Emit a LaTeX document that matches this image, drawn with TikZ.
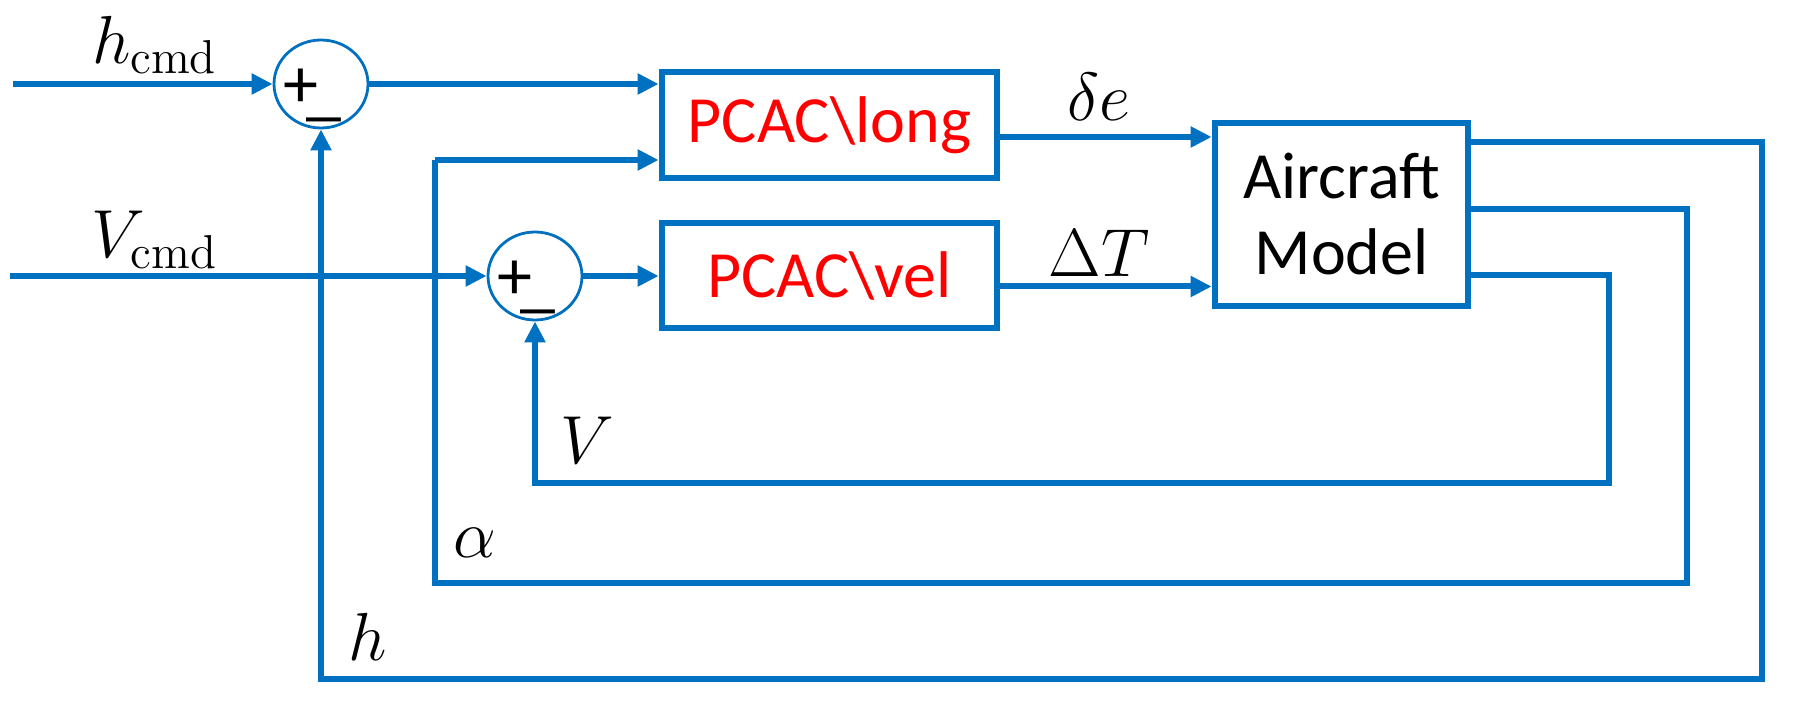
\RequirePackage{fix-cm}
\documentclass[tikz,border=0pt]{standalone}
\usepackage{fontspec}
\newfontfamily\calibrifont{Carlito}
\usetikzlibrary{arrows.meta,shapes.geometric,calc}
\definecolor{lineblue}{HTML}{0070C0}

\newcommand{\sumsigns}{\makebox[0pt]{\raisebox{-0.33em}[0pt][0pt]{\kern0.05em+\kern-0.17em\raisebox{-0.08em}{\_}\kern0.3em}}}

\tikzset{every picture/.style={line width=0.75pt}}
\tikzset{
  blk/.style={draw=lineblue, line width=1.7pt, fill=white, inner sep=0pt,
    font=\calibrifont\fontsize{16.5}{19}\selectfont},
  sumnode/.style={draw=lineblue, line width=0.7pt, ellipse, inner sep=0pt,
    minimum width=23.5pt, minimum height=22pt,
    font=\calibrifont\fontsize{17.5}{17}\selectfont},
  sig/.style={draw=lineblue, line width=1.5pt, -{Triangle[length=5.25pt,width=5pt]}},
  wire/.style={draw=lineblue, line width=1.5pt},
  lbl/.style={inner sep=0pt, font=\fontsize{17}{19}\selectfont},
}

\begin{document}
\begin{tikzpicture}[x=0.25pt,y=0.25pt,yscale=-1,xscale=1]
\useasboundingbox (0,0) rectangle (1796,715);

%Shape: Ellipse (summing junctions)
\node[sumnode] (sumh) at (321,84) {\sumsigns};
\node[sumnode] (sumv) at (535,276) {\sumsigns};
%Shape: Rectangle (controllers and plant)
\node[blk, minimum width=83.75pt, minimum height=26.5pt] (long) at (829.5,125) {\color{red}PCAC\textbackslash long};
\node[blk, minimum width=83.75pt, minimum height=26.25pt] (vel) at (829.5,275.5) {\color{red}PCAC\textbackslash vel};
\node[blk, minimum width=63.25pt, minimum height=45.75pt, align=center] (plant) at (1341.5,214.5) {Aircraft\\Model};

% Text Node
\node[lbl] (hcmd) at (155,45) {$h_{\mathrm{cmd}}$};
% Text Node
\node[lbl] (vcmd) at (155,240) {$V_{\mathrm{cmd}}$};
% Text Node
\node[lbl] (de) at (1099,97) {$\delta e$};
% Text Node
\node[lbl] (dT) at (1099,253) {$\Delta T$};
% Text Node
\node[lbl] (vlab) at (587,440) {$V$};
% Text Node
\node[lbl] (alab) at (475,543) {$\alpha$};
% Text Node
\node[lbl] (hlab) at (368,637) {$h$};

%Straight Lines (inputs)
\coordinate (hin) at (13,84);
\coordinate (vin) at (10,276);
\draw[sig] (hin) -- (sumh);
\draw[sig] (vin) -- (sumv);
\draw[sig] (sumh) -- (sumh -| long.west);
\draw[sig] (sumv) -- (sumv -| vel.west);

%Straight Lines (controls)
\coordinate (deout) at ($(long.east)+(0,12)$);
\coordinate (dTout) at ($(vel.east)+(0,11)$);
\draw[sig] (deout) -- (deout -| plant.west);
\draw[sig] (dTout) -- (dTout -| plant.west);

%Straight Lines (feedback)
\coordinate (hout) at ($(plant.north east)+(0,22)$);
\coordinate (aout) at ($(plant.north east)+(0,89)$);
\coordinate (vout) at ($(plant.north east)+(0,155)$);
\coordinate (hcorner) at (1762,679);
\coordinate (acorner) at (1687,583);
\coordinate (vcorner) at (1609,483);
\coordinate (ain) at (435,160);
\draw[sig] (hout) -| (hcorner) -| (sumh);
\draw[wire] (aout) -| (acorner) -| (ain);
\draw[sig] (ain) -- (ain -| long.west);
\draw[sig] (vout) -| (vcorner) -| (sumv);

\end{tikzpicture}
\end{document}
